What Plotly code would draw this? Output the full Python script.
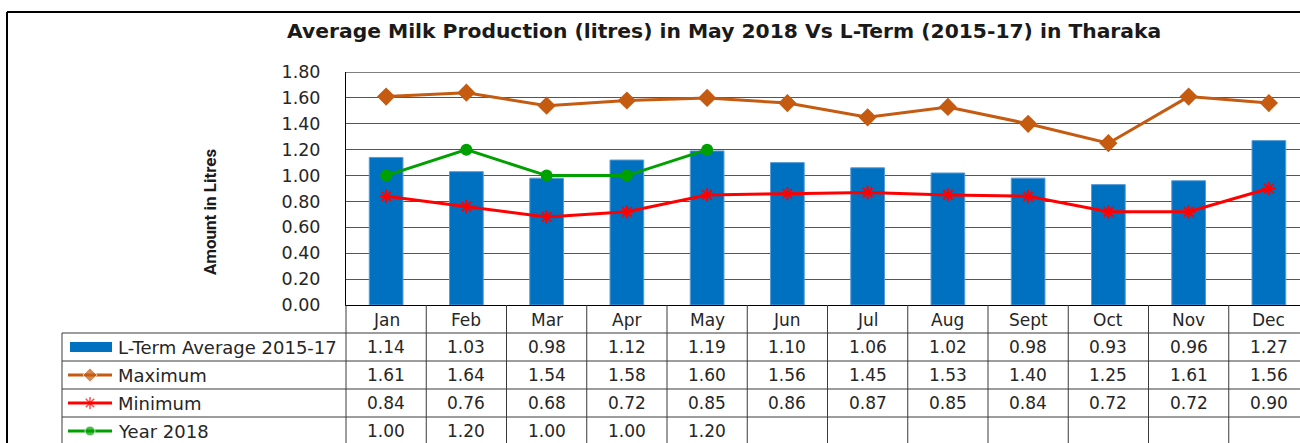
import plotly.graph_objects as go

months = ["Jan", "Feb", "Mar", "Apr", "May", "Jun", "Jul", "Aug", "Sept", "Oct", "Nov", "Dec"]
lterm_avg = [1.14, 1.03, 0.98, 1.12, 1.19, 1.10, 1.06, 1.02, 0.98, 0.93, 0.96, 1.27]
maximum = [1.61, 1.64, 1.54, 1.58, 1.60, 1.56, 1.45, 1.53, 1.40, 1.25, 1.61, 1.56]
minimum = [0.84, 0.76, 0.68, 0.72, 0.85, 0.86, 0.87, 0.85, 0.84, 0.72, 0.72, 0.90]
year_2018 = [1.00, 1.20, 1.00, 1.00, 1.20, None, None, None, None, None, None, None]
series_names = ["L-Term Average 2015-17", "Maximum", "Minimum", "Year 2018"]
y_ticks = [0.0, 0.2, 0.4, 0.6, 0.8, 1.0, 1.2, 1.4, 1.6, 1.8]

W, H = 1300, 443
BLUE = "#0070C0"
ORANGE = "#C55A11"
RED = "#FF0000"
GREEN = "#00A000"
TXT = "#262626"
FONT = "DejaVu Sans"


def px(x):
    return x / W


def py(y):
    return 1 - y / H


fig = go.Figure()

# main chart traces
fig.add_trace(go.Bar(x=months, y=lterm_avg, name=series_names[0], width=0.42,
                     marker=dict(color=BLUE, line=dict(color="#5B9BD5", width=1))))
fig.add_trace(go.Scatter(x=months, y=maximum, name=series_names[1], mode="lines+markers",
                         line=dict(color=ORANGE, width=3),
                         marker=dict(symbol="diamond", size=14, color=ORANGE)))
fig.add_trace(go.Scatter(x=months, y=minimum, name=series_names[2], mode="lines+markers",
                         line=dict(color=RED, width=3),
                         marker=dict(symbol="asterisk-open", size=11, color=RED,
                                     line=dict(color=RED, width=2))))
fig.add_trace(go.Scatter(x=months, y=year_2018, name=series_names[3], mode="lines+markers",
                         line=dict(color=GREEN, width=3),
                         marker=dict(symbol="circle", size=12, color=GREEN)))

# legend key samples inside the data table (pixel overlay axes)
row_y = [347, 375, 403, 431]
legend_styles = [
    None,
    dict(line=dict(color=ORANGE, width=3), marker=dict(symbol="diamond", size=[0, 11, 0], color=ORANGE)),
    dict(line=dict(color=RED, width=3), marker=dict(symbol="asterisk-open", size=[0, 10, 0], color=RED,
                                                     line=dict(color=RED, width=1.5))),
    dict(line=dict(color=GREEN, width=3), marker=dict(symbol="circle", size=[0, 10, 0], color=GREEN)),
]
for i, st in enumerate(legend_styles):
    if st is None:
        continue
    fig.add_trace(go.Scatter(x=[68, 90, 112], y=[row_y[i]] * 3, mode="lines+markers",
                             xaxis="x2", yaxis="y2", showlegend=False, hoverinfo="skip", **st))

plot_x0, plot_x1 = 346, 1309
plot_y0, plot_y1 = 72, 305
cat_w = (plot_x1 - plot_x0) / 12
x_range_max = -0.5 + (W - plot_x0) / cat_w

fig.update_layout(
    width=W, height=H,
    margin=dict(l=0, r=0, t=0, b=0, pad=0, autoexpand=False),
    paper_bgcolor="white", plot_bgcolor="rgba(0,0,0,0)",
    showlegend=False, hovermode=False,
    font=dict(family=FONT, color=TXT),
    xaxis=dict(domain=[px(plot_x0), 1], range=[-0.5, x_range_max], type="category",
               categoryorder="array", categoryarray=months, automargin=False,
               showticklabels=False, showgrid=False, zeroline=False,
               showline=True, linecolor="#000000", linewidth=1, ticks=""),
    yaxis=dict(domain=[py(plot_y1), py(plot_y0)], range=[0, 1.8], automargin=False,
               tickvals=y_ticks, ticktext=[f"{v:.2f}" for v in y_ticks],
               tickfont=dict(family=FONT, size=17.5, color=TXT),
               ticklabelstandoff=21,
               showgrid=True, gridcolor="#555555", gridwidth=1, zeroline=False,
               showline=True, linecolor="#000000", linewidth=1, ticks=""),
    xaxis2=dict(domain=[0, 1], range=[0, W], visible=False, anchor="y2", automargin=False),
    yaxis2=dict(domain=[0, 1], range=[H, 0], visible=False, anchor="x2", automargin=False),
)

shapes = []
# outer border (cropped frame)
shapes.append(dict(type="line", xref="paper", yref="paper", x0=px(7), x1=1, y0=py(12), y1=py(12),
                   line=dict(color="#000000", width=2)))
shapes.append(dict(type="line", xref="paper", yref="paper", x0=px(7), x1=px(7), y0=py(12), y1=0,
                   line=dict(color="#000000", width=2)))
# top plot border at 1.80
shapes.append(dict(type="line", xref="paper", yref="y", x0=px(plot_x0), x1=1, y0=1.8, y1=1.8,
                   line=dict(color="#000000", width=1)))

TL = dict(color="#3a3a3a", width=1)
# table horizontal lines
for yy in [333, 361, 389, 417]:
    shapes.append(dict(type="line", xref="paper", yref="paper", x0=px(62), x1=1, y0=py(yy), y1=py(yy), line=TL))
# table left border and legend column border
shapes.append(dict(type="line", xref="paper", yref="paper", x0=px(62), x1=px(62), y0=py(333), y1=0, line=TL))
shapes.append(dict(type="line", xref="paper", yref="paper", x0=px(plot_x0), x1=px(plot_x0), y0=py(305), y1=0, line=TL))
# column borders
for i in range(len(months) - 1):
    shapes.append(dict(type="line", xref="x", yref="paper", x0=i + 0.5, x1=i + 0.5, y0=py(305), y1=0, line=TL))
# L-Term legend key (bar swatch)
shapes.append(dict(type="rect", xref="paper", yref="paper", x0=px(70), x1=px(112), y0=py(352), y1=py(342),
                   fillcolor=BLUE, line=dict(width=0)))
fig.update_layout(shapes=shapes)

ann = []
ann.append(dict(text="<b>Average Milk Production (litres) in May 2018 Vs L-Term (2015-17) in Tharaka</b>",
                xref="paper", yref="paper", x=px(724), y=py(31), showarrow=False,
                font=dict(family="DejaVu Sans", size=20.3, color="#1a1a1a"), xanchor="center", yanchor="middle"))
ann.append(dict(text="<b>Amount in Litres</b>", xref="paper", yref="paper", x=px(210), y=py(212),
                textangle=-90, showarrow=False,
                font=dict(family="Liberation Sans Narrow, Roboto", size=17, color="#1a1a1a"),
                xanchor="center", yanchor="middle"))
# header row (months)
for m in months:
    ann.append(dict(text=m, xref="x", yref="paper", x=m, y=py(319.5), showarrow=False,
                    font=dict(family=FONT, size=17, color=TXT), xanchor="center", yanchor="middle"))
# data rows
table_rows = [lterm_avg, maximum, minimum, year_2018]
for r, (name, vals) in enumerate(zip(series_names, table_rows)):
    ann.append(dict(text=name, xref="paper", yref="paper", x=px(116), y=py(row_y[r]), showarrow=False,
                    font=dict(family=FONT, size=18, color=TXT), xanchor="left", yanchor="middle"))
    for m, v in zip(months, vals):
        if v is None:
            continue
        ann.append(dict(text=f"{v:.2f}", xref="x", yref="paper", x=m, y=py(row_y[r]), showarrow=False,
                        font=dict(family=FONT, size=17, color=TXT), xanchor="center", yanchor="middle"))
fig.update_layout(annotations=ann)

fig.write_html("out.html", config={"displayModeBar": False},
               post_script="document.body.style.margin='0px';")
